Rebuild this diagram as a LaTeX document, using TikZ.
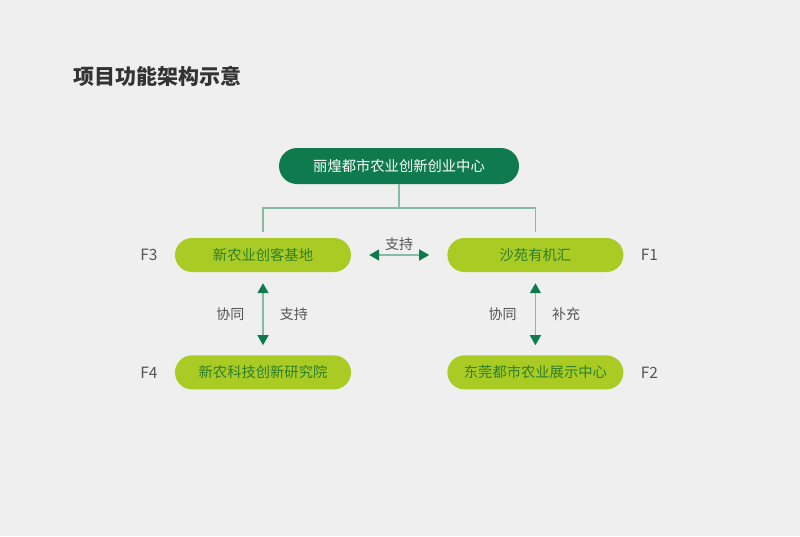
\documentclass[tikz,border=0pt]{standalone}
\usepackage{fontspec}
\setmainfont{Noto Sans CJK SC}
\usetikzlibrary{positioning}
\usetikzlibrary{arrows.meta}
\definecolor{paper}{HTML}{EFEFEF}
\definecolor{deepgreen}{HTML}{0F7A4E}
\definecolor{lime}{HTML}{A9CB23}
\definecolor{limetext}{HTML}{2F7F2A}
\definecolor{linkgreen}{HTML}{86BCA6}
\definecolor{greytext}{HTML}{555555}
\definecolor{titletext}{HTML}{333333}

\begin{document}
\begin{tikzpicture}[x=1pt,y=-1pt,
    hub/.style={fill=deepgreen,text=white,rounded corners=18pt,minimum width=240pt,minimum height=36pt,inner sep=0pt,font=\fontsize{14.3}{16}\selectfont},
    unit/.style={fill=lime,text=limetext,rounded corners=17pt,minimum width=176pt,minimum height=34pt,inner sep=0pt,font=\fontsize{14.3}{16}\selectfont},
    tag/.style={text=greytext,inner sep=0pt,font=\fontsize{14}{16}\selectfont},
    ftag/.style={tag,font=\fontsize{15.5}{18}\selectfont},
    link/.style={draw=linkgreen,line width=1.5pt},
    twoway/.style={link,{Triangle[length=10pt,width=11pt,color=deepgreen]}-{Triangle[length=10pt,width=11pt,color=deepgreen]}}]
    \fill[paper] (0,0) rectangle (800,536);
    \useasboundingbox (0,0) rectangle (800,536);
    \node[anchor=west,inner sep=0pt,text=titletext,font=\fontsize{21}{24}\selectfont\bfseries] (heading) at (73,76) {项目功能架构示意};
    \node[hub] (centre) at (399,166) {丽煌都市农业创新创业中心};
    \node[unit] (f3) at (263,255) {新农业创客基地};
    \node[unit,right=96pt of f3] (f1) {沙苑有机汇};
    \node[unit,below=83pt of f3] (f4) {新农科技创新研究院};
    \node[unit,below=83pt of f1] (f2) {东莞都市农业展示中心};
    \node[ftag,left=17pt of f3] (f3tag) {F3};
    \node[ftag,right=17pt of f1] (f1tag) {F1};
    \node[ftag,left=17pt of f4] (f4tag) {F4};
    \node[ftag,right=17pt of f2] (f2tag) {F2};
    % tree under the centre
    \coordinate (fork) at (399,208);
    \coordinate (f3top) at ([yshift=6pt]f3.north);
    \coordinate (f1top) at ([yshift=6pt]f1.north);
    \draw[link] (centre.south) -- (fork);
    \draw[link] (f3top) |- (fork) -| (f1top);
    % two-way links
    \draw[twoway,shorten <=18pt,shorten >=18pt] (f3) -- (f1) node[tag,midway,above=4pt] {支持};
    \draw[twoway,shorten <=11pt,shorten >=10pt] (f3) -- (f4) node[tag,midway,left=18pt] {协同} node[tag,midway,right=16pt] {支持};
    \draw[twoway,shorten <=11pt,shorten >=10pt] (f1) -- (f2) node[tag,midway,left=18pt] {协同} node[tag,midway,right=16pt] {补充};
\end{tikzpicture}
\end{document}
